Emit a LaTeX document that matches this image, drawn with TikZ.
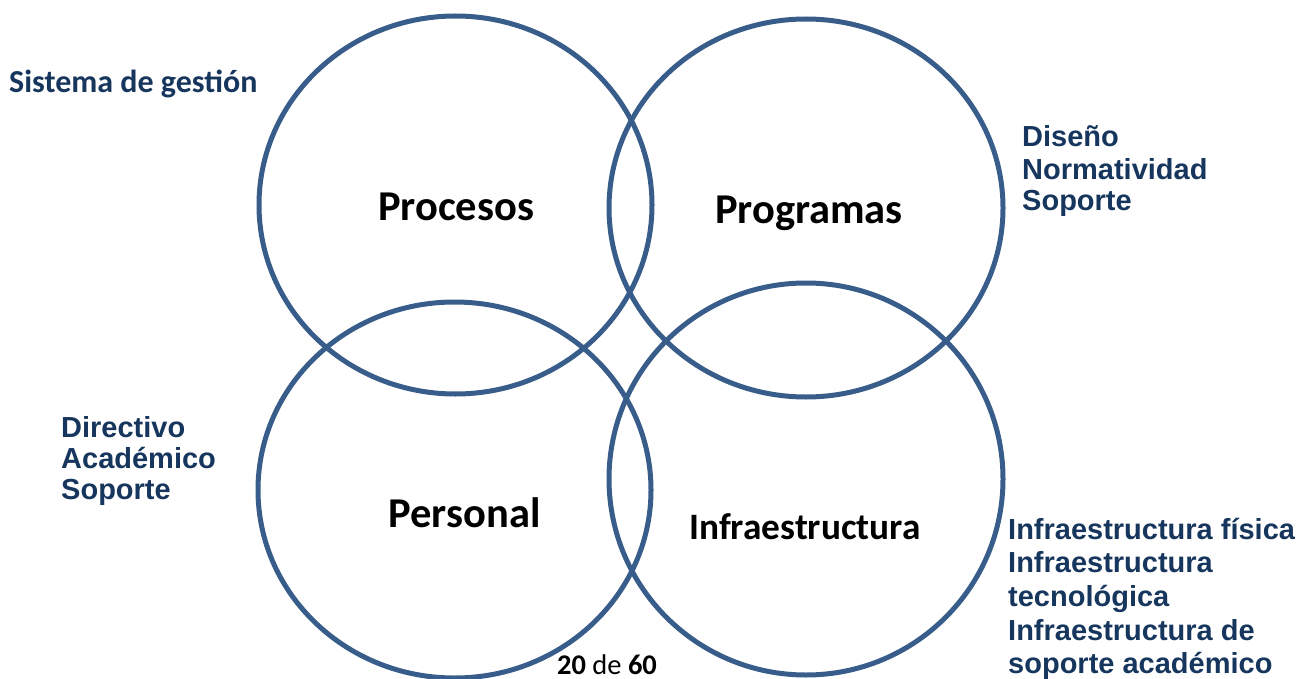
\documentclass[tikz,border=0pt]{standalone}
\usepackage{fontspec}
\setmainfont{Carlito}
\newfontfamily\arialfont{Liberation Sans}
\usetikzlibrary{positioning}
\definecolor{ringblue}{HTML}{385D8A}
\definecolor{navy}{HTML}{17365D}

\begin{document}
\begin{tikzpicture}[x=1pt,y=-1pt,
  ring/.style={draw=ringblue, line width=5pt},
  title/.style={font=\bfseries\fontsize{42.5}{50}\selectfont, anchor=base, inner sep=0pt},
  side/.style={font=\arialfont\bfseries\fontsize{29}{34}\selectfont, text=navy, anchor=base west, inner sep=0pt}]
\useasboundingbox (0,0) rectangle (1316,679);
% kreise
\coordinate (proc) at (455.5,205);
\coordinate (prog) at (806,208);
\coordinate (pers) at (454.5,490);
\coordinate (infr) at (806,479);
\draw[ring] (proc) ellipse [x radius=196.5pt, y radius=189pt];
\draw[ring] (prog) ellipse [x radius=197pt, y radius=189pt];
\draw[ring] (pers) ellipse [x radius=196.5pt, y radius=188pt];
\draw[ring] (infr) ellipse [x radius=197pt, y radius=196pt];
% titel
\node[title] (procesos) at (456,220) {Procesos};
\node[title] (programas) at (809,223) {Programas};
\node[title] (personal) at (464.5,527) {Personal};
\node[title, font=\bfseries\fontsize{37.3}{45}\selectfont] (infraestructura) at (805,539) {Infraestructura};
% links oben
\node[side, font=\bfseries\fontsize{32}{38}\selectfont] (sistema) at (9,93) {Sistema de gestión};
% rechts oben
\node[side] (diseno) at (1022,147) {Diseño};
\node[side] (normatividad) at (1022,179) {Normatividad};
\node[side] (soporte1) at (1022,211) {Soporte};
% links unten
\node[side] (directivo) at (61,437) {Directivo};
\node[side] (academico) at (61,468) {Académico};
\node[side] (soporte2) at (61,499) {Soporte};
% rechts unten
\node[side] (fisica) at (1008,539) {Infraestructura física};
\node[side] (infra2) at (1008,572) {Infraestructura};
\node[side] (tecno) at (1008,606) {tecnológica};
\node[side] (infra3) at (1008,640) {Infraestructura de};
\node[side] (acad) at (1008,673) {soporte académico};
% seite
\node[anchor=base, inner sep=0pt, font=\fontsize{28.5}{34}\selectfont] (seite) at (607,674) {\textbf{20} de \textbf{60}};
\end{tikzpicture}
\end{document}
